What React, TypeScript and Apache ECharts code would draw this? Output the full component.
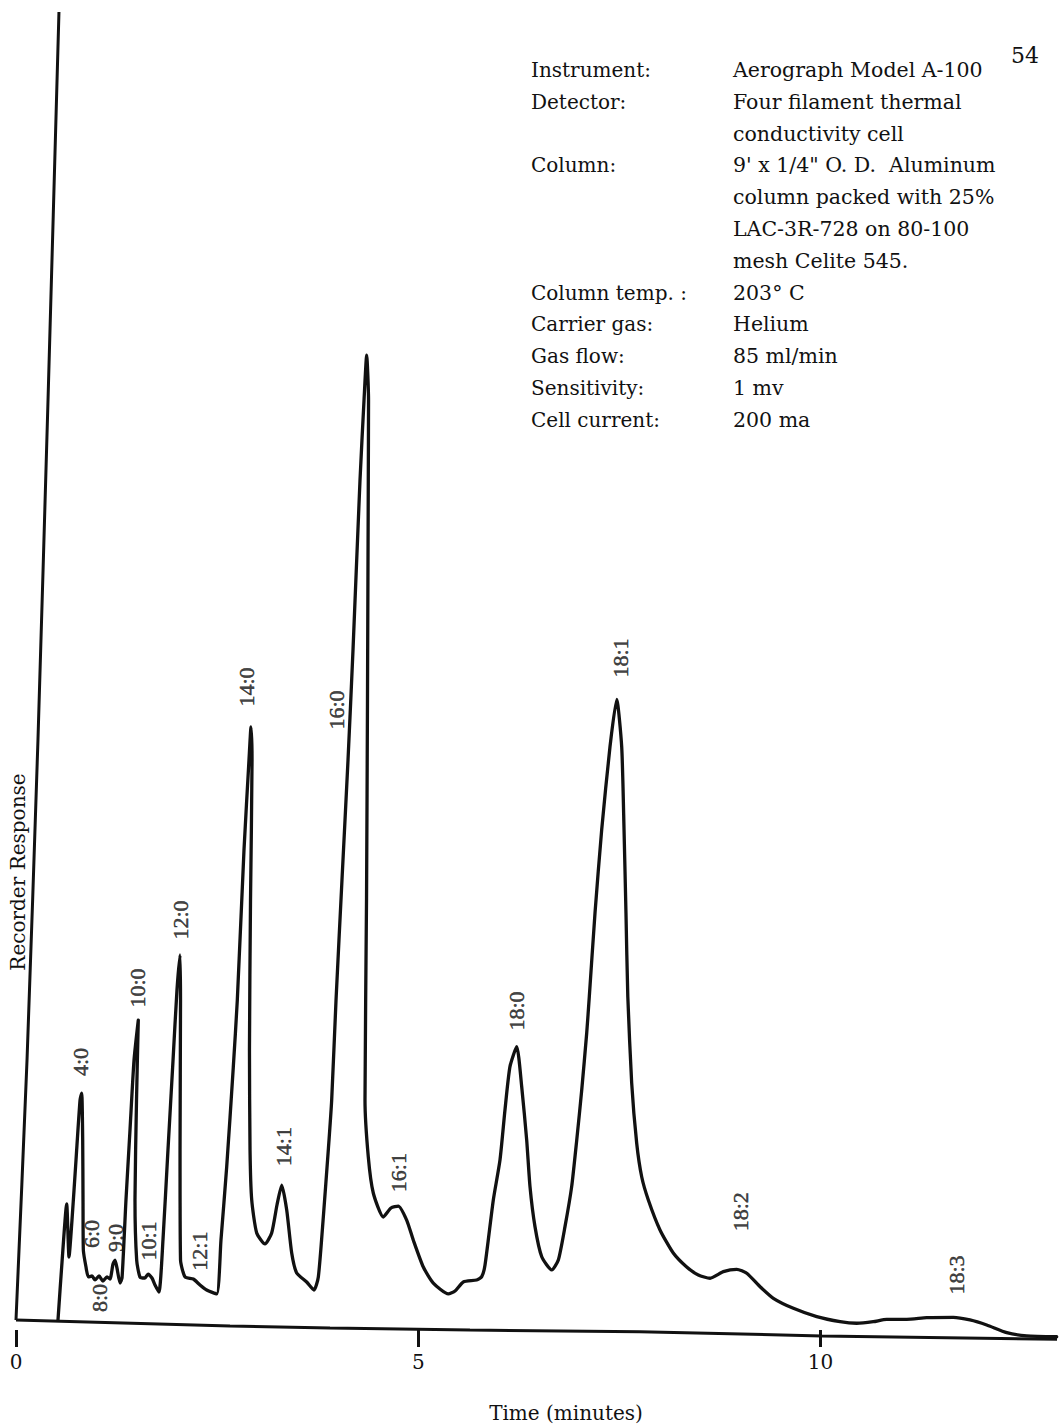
import React, { useEffect, useRef } from "react";
import * as echarts from "echarts";

// Recorder trace: time (minutes) and response (% of chart height)
const traceTime = [
  0.522, 0.572, 0.630, 0.659, 0.696, 0.746, 0.796, 0.817, 0.829, 0.833,
  0.837, 0.870, 0.899, 0.945, 0.982, 1.032, 1.081, 1.131, 1.168, 1.206,
  1.231, 1.255, 1.293, 1.318, 1.367, 1.417, 1.467, 1.520, 1.498, 1.479,
  1.500, 1.541, 1.603, 1.641, 1.690, 1.728, 1.777, 1.827, 1.889, 1.952,
  2.001, 2.039, 2.045, 2.039, 2.045, 2.101, 2.204, 2.287, 2.370, 2.495,
  2.548, 2.619, 2.701, 2.751, 2.834, 2.896, 2.921, 2.934, 2.915, 2.902,
  2.909, 2.930, 2.992, 3.095, 3.178, 3.244, 3.303, 3.365, 3.427, 3.489,
  3.613, 3.704, 3.758, 3.820, 3.882, 3.924, 3.978, 4.052, 4.127, 4.189,
  4.276, 4.326, 4.359, 4.382, 4.379, 4.369, 4.357, 4.338, 4.379, 4.441,
  4.566, 4.661, 4.752, 4.856, 4.938, 5.063, 5.187, 5.374, 5.457, 5.560,
  5.726, 5.789, 5.830, 5.933, 6.016, 6.078, 6.140, 6.224, 6.286, 6.348,
  6.389, 6.451, 6.535, 6.659, 6.741, 6.824, 6.907, 6.970, 7.032, 7.094,
  7.126, 7.197, 7.280, 7.383, 7.467, 7.529, 7.558, 7.582, 7.605, 7.653,
  7.715, 7.778, 7.860, 8.005, 8.170, 8.337, 8.481, 8.627, 8.792, 8.959,
  9.083, 9.249, 9.414, 9.663, 9.953, 10.243, 10.450, 10.656, 10.823, 11.072,
  11.320, 11.651, 11.858, 12.066, 12.315, 12.563, 12.936,
];
const traceResponse = [
  0.76, 5.15, 9.55, 5.53, 8.33, 12.88, 17.42, 17.95, 14.39, 9.85,
  6.06, 4.77, 4.02, 4.09, 3.79, 4.09, 3.71, 4.02, 3.86, 5.0,
  5.30, 4.70, 3.56, 3.94, 9.85, 15.15, 20.45, 23.48, 17.42, 9.85,
  5.30, 4.02, 3.94, 4.24, 3.94, 3.41, 2.88, 6.82, 13.64, 20.45,
  25.76, 28.41, 25.0, 13.64, 5.30, 4.02, 3.86, 3.41, 3.03, 2.73,
  6.82, 12.35, 19.92, 25.0, 36.36, 43.18, 45.68, 43.18, 32.58, 21.21,
  13.64, 9.85, 7.35, 6.52, 7.35, 9.47, 10.98, 9.09, 5.83, 4.32,
  3.64, 3.03, 4.02, 8.56, 13.64, 17.42, 25.0, 34.09, 43.18, 51.52,
  64.39, 70.45, 73.86, 70.45, 64.39, 47.73, 32.58, 17.42, 13.11, 10.38,
  8.56, 9.24, 9.39, 8.33, 6.82, 4.77, 3.56, 2.73, 2.95, 3.64,
  3.79, 4.04, 4.92, 9.85, 12.88, 16.67, 19.95, 21.46, 18.43, 14.39,
  10.86, 7.83, 5.55, 4.55, 5.30, 7.83, 10.86, 14.39, 18.18, 22.5,
  25.23, 31.59, 37.88, 44.17, 47.78, 44.17, 37.88, 31.59, 25.23, 18.71,
  14.17, 11.59, 9.85, 7.58, 5.83, 4.77, 4.17, 3.92, 4.42, 4.60,
  4.30, 3.28, 2.40, 1.64, 1.01, 0.63, 0.51, 0.63, 0.81, 0.81,
  0.93, 0.96, 0.76, 0.38, -0.20, -0.45, -0.51,
];

// Solvent front (off scale)
const solventTime = [0, 0.137, 0.273, 0.398, 0.534];
const solventResponse = [0.76, 20.45, 44.7, 70.45, 99.85];

// Recorder zero line
const baselineTime = [0, 2.66, 3.903, 5.643, 7.756, 10.019, 12.94];
const baselineResponse = [0.76, 0.3, 0.15, 0, -0.13, -0.45, -0.7];

// Peak identifications
const peakNames = ["4:0", "6:0", "8:0", "9:0", "10:0", "10:1", "12:0", "12:1", "14:0", "14:1", "16:0", "16:1", "18:0", "18:1", "18:2", "18:3"];
const labelTime = [0.796, 0.941, 1.044, 1.231, 1.516, 1.653, 2.039, 2.287, 2.871, 3.331, 3.99, 4.752, 6.224, 7.508, 9.0, 11.693];
const labelResponse = [20.3, 7.27, 2.42, 6.97, 25.91, 6.74, 31.06, 5.98, 48.71, 13.89, 46.97, 11.92, 24.17, 50.91, 8.96, 4.17];

// Time axis tick labels
const timeTicks = [0, 5, 10];

// Instrument conditions
const infoLabels = ["Instrument:", "Detector:", "", "Column:", "", "", "", "Column temp. :", "Carrier gas:", "Gas flow:", "Sensitivity:", "Cell current:"];
const infoValues = [
  "Aerograph Model A-100",
  "Four filament thermal",
  "conductivity cell",
  "9' x 1/4\" O. D.  Aluminum",
  "column packed with 25%",
  "LAC-3R-728 on 80-100",
  "mesh Celite 545.",
  "203° C",
  "Helium",
  "85 ml/min",
  "1 mv",
  "200 ma",
];

const timeMin = 0;
const timeMax = 13;
const responseMin = 0;
const responseMax = 100;

const INK = "#111";
const SERIF = '"DejaVu Serif", serif';
const LABEL_SERIF = '"Liberation Serif", serif';

export default function App() {
  const ref = useRef<HTMLDivElement>(null);
  useEffect(() => {
    document.body.style.margin = "0";
    const chart = echarts.init(ref.current as HTMLDivElement, undefined, { renderer: "svg" });
    const zip = (a: number[], b: number[]) => a.map((t, i) => [t, b[i]]);
    const textStyle = (text: string, size: number, align: string) => ({
      text,
      font: `${size}px ${SERIF}`,
      fill: INK,
      align,
      verticalAlign: "middle",
      textAlign: align,
      textVerticalAlign: "middle",
    });

    const infoGraphics: any[] = [];
    infoLabels.forEach((txt, i) => {
      if (!txt) return;
      infoGraphics.push({ type: "text", x: 531, y: 70 + i * 31.8, style: textStyle(txt, 20, "left") });
    });
    infoValues.forEach((txt, i) => {
      infoGraphics.push({ type: "text", x: 733, y: 70 + i * 31.8, style: textStyle(txt, 20.5, "left") });
    });

    const option: any = {
      animation: false,
      backgroundColor: "#ffffff",
      grid: {
        left: 16,
        top: 10,
        width: (timeMax - timeMin) * 80.45,
        height: (responseMax - responseMin) * 13.2,
        containLabel: false,
        outerBoundsMode: "none",
      },
      xAxis: {
        type: "value",
        min: timeMin,
        max: timeMax,
        interval: 5,
        axisLine: { show: false },
        axisTick: { show: true, length: 17, customValues: timeTicks, lineStyle: { color: INK, width: 3 } },
        axisLabel: { margin: 22, customValues: timeTicks, fontFamily: SERIF, fontSize: 20, color: INK },
        splitLine: { show: false },
      },
      yAxis: { type: "value", min: responseMin, max: responseMax, show: false, splitLine: { show: false } },
      graphic: [
        ...infoGraphics,
        { type: "text", x: 1011, y: 55, style: textStyle("54", 22, "left") },
        { type: "text", x: 18, y: 872, rotation: Math.PI / 2, style: textStyle("Recorder Response", 20, "center") },
        { type: "text", x: 566, y: 1413, style: textStyle("Time (minutes)", 20, "center") },
      ],
      series: [
        {
          type: "line",
          data: zip(baselineTime, baselineResponse),
          showSymbol: false,
          clip: false,
          lineStyle: { color: INK, width: 3 },
          silent: true,
        },
        {
          type: "line",
          data: zip(solventTime, solventResponse),
          showSymbol: false,
          clip: false,
          smooth: 0.2,
          lineStyle: { color: INK, width: 3 },
          silent: true,
        },
        {
          type: "line",
          data: zip(traceTime, traceResponse),
          showSymbol: false,
          clip: false,
          smooth: 0.2,
          lineStyle: { color: INK, width: 3.3, join: "round", cap: "round" },
          silent: true,
        },
        {
          type: "scatter",
          symbolSize: 1,
          itemStyle: { color: "rgba(0,0,0,0)" },
          silent: true,
          clip: false,
          data: peakNames.map((n, i) => ({ name: n, value: [labelTime[i], labelResponse[i]] })),
          label: {
            show: true,
            position: "inside",
            rotate: 90,
            formatter: (p: any) => p.name,
            fontFamily: LABEL_SERIF,
            fontSize: 22,
            color: INK,
            textBorderColor: INK,
            textBorderWidth: 0.5,
            align: "center",
            verticalAlign: "middle",
          },
        },
      ],
    };
    chart.setOption(option);
    return () => chart.dispose();
  }, []);
  return <div ref={ref} style={{ width: 1060, height: 1427 }} />;
}
